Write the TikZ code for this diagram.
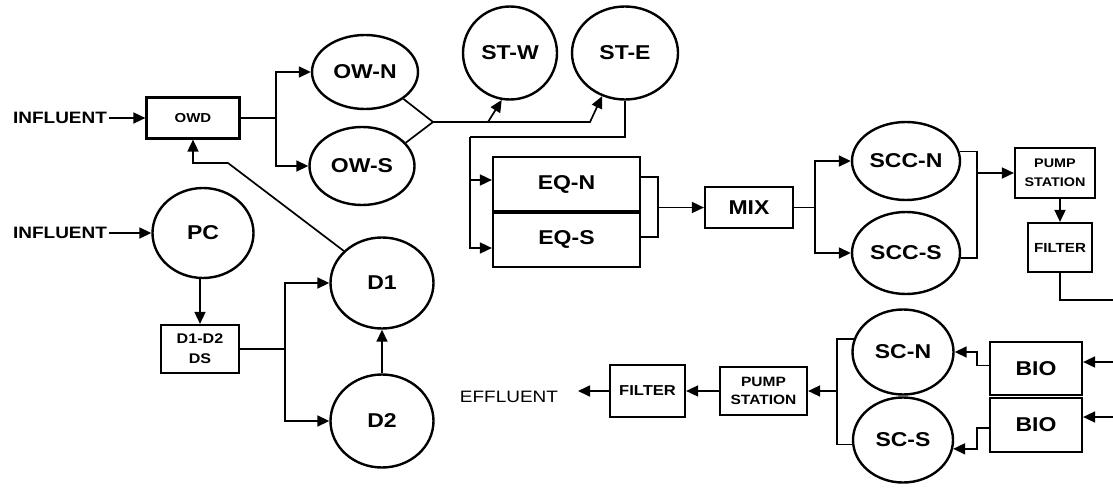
\documentclass[tikz,border=0pt]{standalone}
\usepackage{fontspec}
\setmainfont{Liberation Sans}
\newfontfamily\labfont[FakeStretch=1.15]{Liberation Sans}
\usetikzlibrary{arrows.meta,shapes.geometric}
\begin{document}
\begin{tikzpicture}[x=1pt,y=-1pt,
  ell/.style={ellipse,draw,line width=2.4pt,inner sep=0pt},
  box/.style={rectangle,draw,line width=2.2pt,inner sep=0pt,align=center},
  big/.style={font=\labfont\bfseries\fontsize{20}{20}\selectfont},
  conn/.style={line width=1.7pt},
  arr/.style={conn,-{Triangle[length=12pt,width=11pt]}},
]
\useasboundingbox (0,0) rectangle (1113,495);

% nodes
\node[font=\labfont\bfseries\fontsize{16.5}{18}\selectfont,inner sep=2pt] (inf1) at (60,118) {INFLUENT};
\node[box,minimum width=93pt,minimum height=41pt,font=\labfont\bfseries\fontsize{13}{15}\selectfont] (owd) at (193,118) {OWD};
\node[ell,big,minimum width=106pt,minimum height=74pt] (owN) at (365,72) {OW-N};
\node[ell,big,minimum width=105pt,minimum height=78pt] (owS) at (362,166) {OW-S};
\node[ell,big,minimum width=94pt,minimum height=93pt] (stW) at (510,53) {ST-W};
\node[ell,big,minimum width=106pt,minimum height=93pt] (stE) at (625,53) {ST-E};
\node[box,big,minimum width=147pt,minimum height=54pt] (eqN) at (566.5,184) {EQ-N};
\node[box,big,minimum width=147pt,minimum height=56pt] (eqS) at (566.5,239) {EQ-S};
\node[box,big,minimum width=88pt,minimum height=41pt] (mix) at (749,207.5) {MIX};
\node[ell,big,minimum width=108pt,minimum height=78pt] (sccN) at (906,161) {SCC-N};
\node[ell,big,minimum width=108pt,minimum height=82pt] (sccS) at (906,253) {SCC-S};
\node[box,minimum width=80pt,minimum height=50pt,font=\labfont\bfseries\fontsize{12.5}{19}\selectfont] (pump1) at (1055,173) {PUMP\\STATION};
\node[box,minimum width=64pt,minimum height=49pt,font=\labfont\bfseries\fontsize{13.2}{15}\selectfont] (filt1) at (1060,247.5) {FILTER};
\node[box,big,minimum width=92pt,minimum height=53pt] (bio1) at (1036,368.5) {BIO};
\node[box,big,minimum width=92pt,minimum height=54pt] (bio2) at (1036,425) {BIO};
\node[ell,big,minimum width=101pt,minimum height=85pt] (scN) at (903,352) {SC-N};
\node[ell,big,minimum width=100pt,minimum height=85pt] (scS) at (903,440) {SC-S};
\node[box,minimum width=87pt,minimum height=48pt,font=\labfont\bfseries\fontsize{13.5}{18}\selectfont] (pump2) at (763.5,391) {PUMP\\STATION};
\node[box,minimum width=75pt,minimum height=52pt,font=\labfont\bfseries\fontsize{14.4}{16}\selectfont] (filt2) at (647.5,391) {FILTER};
\node[font=\labfont\fontsize{16.5}{18}\selectfont] (eff) at (509,397) {EFFLUENT};
\node[font=\labfont\bfseries\fontsize{16.5}{18}\selectfont,inner sep=2pt] (inf2) at (60,233) {INFLUENT};
\node[ell,big,minimum width=101pt,minimum height=90pt] (pc) at (203,233) {PC};
\node[box,minimum width=78pt,minimum height=48pt,font=\labfont\bfseries\fontsize{14}{20}\selectfont] (ds) at (200,349) {D1-D2\\DS};
\node[ell,big,minimum width=103pt,minimum height=91pt] (d1) at (382,283) {D1};
\node[ell,big,minimum width=103pt,minimum height=93pt] (d2) at (382,421) {D2};

% junction coordinates
\coordinate (j1) at (276,118);
\coordinate (m1) at (433,122);
\coordinate (m2) at (488,122);
\coordinate (m3) at (590,122);
\coordinate (e1) at (470,137);
\coordinate (q1) at (658,207.5);
\coordinate (s1) at (815,207.5);
\coordinate (s2) at (977,173);
\coordinate (f1) at (1113,300);
\coordinate (b1) at (1113,362);
\coordinate (b2) at (1113,417);
\coordinate (p1) at (837,391);
\coordinate (ef) at (578,391);
\coordinate (r1) at (228,163);
\coordinate (t1) at (285,349);

% connectors
\draw[arr] (inf1.east) -- (owd.west);
\draw[conn] (owd.east) -- (j1);
\draw[arr] (j1) |- (owN.west);
\draw[arr] (j1) |- (owS.west);
\draw[conn] (owN.-35) -- (m1) -- (owS.28);
\draw[arr] (m1) -- (m3) -- (stE.242);
\draw[arr] (m2) -- (stW.260);
\draw[conn] (stE.south) |- (e1);
\draw[arr] (e1) |- ([yshift=4pt]eqN.west);
\draw[arr] (e1) |- ([yshift=-9pt]eqS.west);
\draw[line width=4pt] (eqN.south west) -- (eqN.south east);
\draw[conn] ([yshift=7pt]eqN.east) -| (q1) |- ([yshift=2pt]eqS.east);
\draw[arr] (q1) -- (mix.west);
\draw[conn] (mix.east) -- (s1);
\draw[arr] (s1) |- (sccN.west);
\draw[arr] (s1) |- (sccS.west);
\draw[conn] (sccN.10) -| (s2) |- (sccS.-5);
\draw[arr] (s2) -- (pump1.west);
\draw[arr] (filt1.north |- pump1.south) -- (filt1.north);
\draw[conn] (filt1.south) |- (f1);
\draw[arr] (b1) -- (b1 -| bio1.east);
\draw[arr] (b2) -- (b2 -| bio2.east);
\draw[arr] ([yshift=3pt]bio1.west) -- ++(-12,0) |- (scN.east);
\draw[arr] ([yshift=-3pt]bio2.west) -- ++(-12,0) |- (scS.-10);
\draw[conn] (scN.165) -| (p1) |- (scS.185);
\draw[arr] (p1) -- (pump2.east);
\draw[arr] (pump2.west) -- (filt2.east);
\draw[arr] (filt2.west) -- (ef);
\draw[arr] (d1.140) -- (r1) -| (owd.south);
\draw[arr] (inf2.east) -- (pc.west);
\draw[arr] (ds.north |- pc.south) -- (ds.north);
\draw[conn] (ds.east) -- (t1);
\draw[arr] (t1) |- (d1.west);
\draw[arr] (t1) |- (d2.west);
\draw[arr] (d2.north) -- (d1.south);
\end{tikzpicture}
\end{document}
